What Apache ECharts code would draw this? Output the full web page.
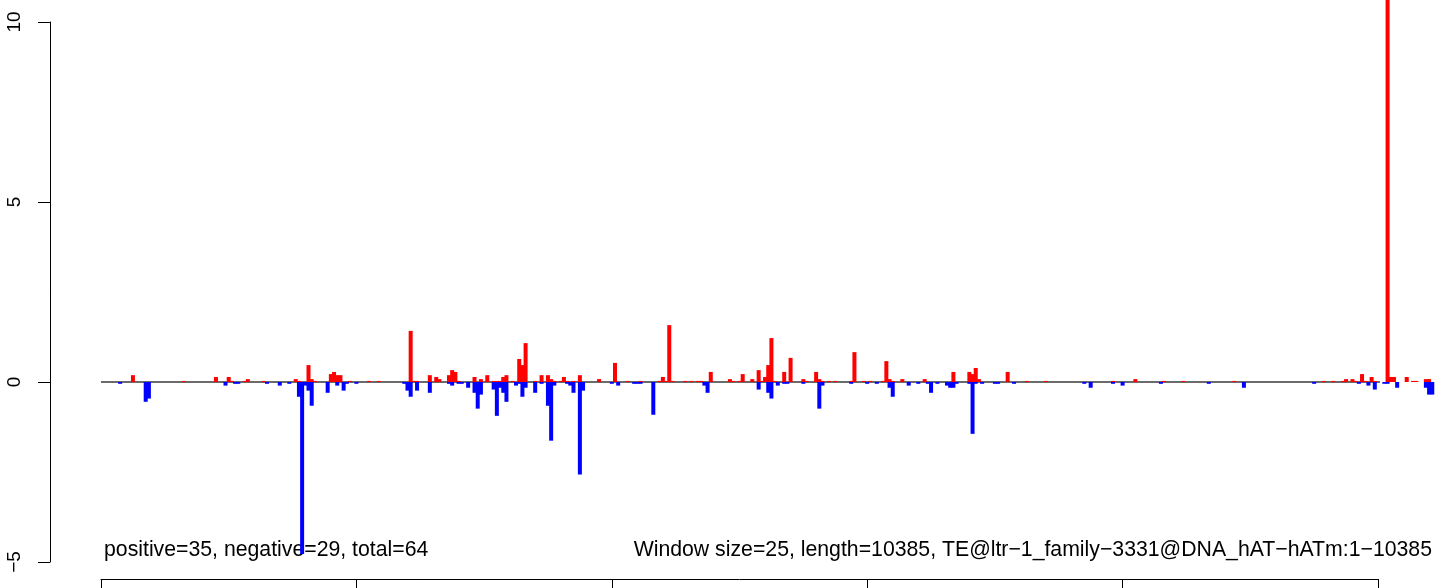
<!DOCTYPE html>
<html>
<head>
<meta charset="utf-8">
<script src="https://cdn.jsdelivr.net/npm/echarts@6/dist/echarts.min.js"></script>
<style>
  html, body { margin: 0; padding: 0; background: #fff; }
  #chart { width: 1449px; height: 588px; }
</style>
</head>
<body>
<div id="chart"></div>
<script>
// window start (bp) and score
var posX = [250, 650, 900, 1000, 1025, 1125, 1150, 1275, 1525, 1550, 1625, 1650, 1675, 1800, 1825, 1850, 1875, 1950,
  2100, 2175, 2425, 2450, 2475, 2575, 2625, 2650, 2725, 2750, 2775, 2800, 2925, 2975, 3025, 3075, 3100, 3125, 3150,
  3175, 3225, 3275, 3300, 3325, 3400, 3450, 3500, 3525, 3550, 3600, 3625, 3650, 3700, 3750, 3900, 4025, 4125, 4225,
  4375, 4400, 4425, 4450, 4475, 4575, 4625, 4675, 4700, 4775, 4925, 4950, 5000, 5025, 5100, 5150, 5175, 5200, 5225,
  5250, 5275, 5350, 5400, 5500, 5525, 5600, 5625, 5650, 5700, 5750, 5875, 5900, 5975, 6025, 6125, 6150, 6175, 6200,
  6275, 6450, 6675, 6800, 6825, 6850, 6875, 7100, 7250, 7400, 7925, 8100, 8325, 8475, 8875, 9575, 9650, 9725, 9750,
  9800, 9825, 9875, 9900, 9950, 9975, 10075, 10100, 10125, 10225, 10275, 10300, 10375, 10400];
var posY = [0.19, 0.03, 0.14, 0.14, 0.03, 0.03, 0.08, 0.03, 0.08, 0.03, 0.47, 0.08, 0.03, 0.22, 0.28, 0.19, 0.19, 0.03,
  0.03, 0.03, 1.42, 0.03, 0.03, 0.19, 0.14, 0.08, 0.19, 0.33, 0.28, 0.03, 0.14, 0.08, 0.19, 0.03, 0.03, 0.03, 0.14,
  0.19, 0.03, 0.64, 0.47, 1.08, 0.03, 0.19, 0.19, 0.08, 0.03, 0.03, 0.14, 0.03, 0.03, 0.19, 0.08, 0.53, 0.03, 0.03,
  0.03, 0.14, 0.03, 1.58, 0.03, 0.03, 0.03, 0.03, 0.03, 0.28, 0.08, 0.03, 0.03, 0.22, 0.08, 0.33, 0.03, 0.14, 0.47,
  1.22, 0.03, 0.28, 0.67, 0.08, 0.03, 0.28, 0.08, 0.03, 0.03, 0.03, 0.03, 0.83, 0.03, 0.03, 0.03, 0.58, 0.08, 0.03,
  0.08, 0.08, 0.28, 0.28, 0.22, 0.39, 0.08, 0.28, 0.03, 0.03, 0.03, 0.08, 0.03, 0.03, 0.03, 0.03, 0.03, 0.03, 0.08,
  0.08, 0.03, 0.22, 0.03, 0.14, 0.03, 11.5, 0.14, 0.14, 0.14, 0.03, 0.03, 0.08, 0.08];

var negX = [150, 350, 375, 975, 1050, 1075, 1300, 1400, 1475, 1550, 1575, 1600, 1625, 1650, 1775, 1850, 1900, 1925, 2000,
  2375, 2400, 2425, 2475, 2575, 2725, 2750, 2800, 2825, 2875, 2925, 2950, 2975, 3075, 3100, 3125, 3150, 3175, 3250,
  3275, 3300, 3325, 3400, 3450, 3500, 3525, 3550, 3650, 3675, 3700, 3750, 3775, 4000, 4050, 4175, 4200, 4225, 4325,
  4725, 4750, 5150, 5225, 5250, 5300, 5350, 5375, 5500, 5625, 5650, 5875, 6000, 6075, 6175, 6200, 6325, 6400, 6475,
  6500, 6550, 6625, 6650, 6675, 6700, 6800, 6825, 6850, 6900, 7000, 7025, 7150, 7700, 7750, 7925, 8000, 8300, 8675,
  8950, 9500, 9850, 9925, 9975, 10050, 10075, 10150, 10375, 10400, 10425];
var negY = [-0.05, -0.55, -0.46, -0.10, -0.05, -0.05, -0.05, -0.10, -0.05, -0.41, -4.78, -0.10, -0.24, -0.66, -0.30,
  -0.10, -0.24, -0.05, -0.05, -0.05, -0.24, -0.41, -0.24, -0.30, -0.05, -0.10, -0.05, -0.05, -0.16, -0.30, -0.74,
  -0.35, -0.21, -0.94, -0.16, -0.30, -0.55, -0.10, -0.05, -0.41, -0.16, -0.30, -0.05, -0.66, -1.63, -0.10, -0.05,
  -0.10, -0.30, -2.57, -0.24, -0.05, -0.10, -0.05, -0.05, -0.05, -0.91, -0.10, -0.30, -0.21, -0.30, -0.46, -0.10,
  -0.05, -0.05, -0.05, -0.74, -0.10, -0.05, -0.05, -0.05, -0.16, -0.41, -0.10, -0.05, -0.05, -0.30, -0.05, -0.10,
  -0.16, -0.16, -0.05, -0.05, -1.44, -0.05, -0.05, -0.05, -0.05, -0.05, -0.05, -0.16, -0.05, -0.10, -0.05, -0.05,
  -0.16, -0.05, -0.05, -0.10, -0.21, -0.05, -0.05, -0.16, -0.16, -0.35, -0.35];

var yTicks = [-5, 0, 5, 10];
var baseline = [0, 10420];
var leftNote = 'positive=35, negative=29, total=64';
var rightNote = 'Window size=25, length=10385, TE@ltr\u22121_family\u22123331@DNA_hAT\u2212hATm:1\u221210385';

function pairs(xs, ys) {
  return xs.map(function (x, i) { return [x, ys[i]]; });
}

var chart = echarts.init(document.getElementById('chart'), null, { renderer: 'canvas' });
var font = '"Liberation Sans", Arial, Helvetica, sans-serif';

chart.setOption({
  animation: false,
  backgroundColor: '#fff',
  grid: { left: 101, width: 1277, top: 22, height: 540 },
  xAxis: {
    type: 'value',
    min: 0,
    max: 10000,
    interval: 2000,
    offset: 17,
    axisLine: { onZero: false, lineStyle: { color: '#000', width: 1 } },
    axisTick: { length: 12, lineStyle: { color: '#000' } },
    axisLabel: { show: false },
    splitLine: { show: false }
  },
  yAxis: {
    type: 'value',
    min: yTicks[0],
    max: yTicks[yTicks.length - 1],
    interval: 5,
    offset: 51,
    axisLine: { show: true, onZero: false, lineStyle: { color: '#000', width: 1 } },
    axisTick: { show: true, length: 12, lineStyle: { color: '#000' } },
    axisLabel: {
      rotate: 90,
      margin: 26,
      color: '#000',
      fontSize: 19,
      fontFamily: font,
      formatter: function (v) { return String(v).replace('-', '\u2212'); }
    },
    splitLine: { show: false }
  },
  series: [
    {
      type: 'line',
      data: [[baseline[0], 0], [baseline[1], 0]],
      symbol: 'none',
      clip: false,
      lineStyle: { color: '#3a3a3a', width: 1.3 },
      z: 1
    },
    {
      type: 'bar',
      data: pairs(posX, posY),
      barWidth: 4,
      barGap: '-100%',
      clip: false,
      itemStyle: { color: '#ff0000' },
      z: 2
    },
    {
      type: 'bar',
      data: pairs(negX, negY),
      barWidth: 4,
      barGap: '-100%',
      clip: false,
      itemStyle: { color: '#0000ff' },
      z: 2
    }
  ],
  graphic: [
    {
      type: 'text', left: 104, top: 540,
      style: { text: leftNote, fontSize: 21.25, fontFamily: font, fill: '#000' }
    },
    {
      type: 'text', right: 17, top: 540,
      style: { text: rightNote, fontSize: 21.25, fontFamily: font, fill: '#000' }
    }
  ]
});
</script>
</body>
</html>
